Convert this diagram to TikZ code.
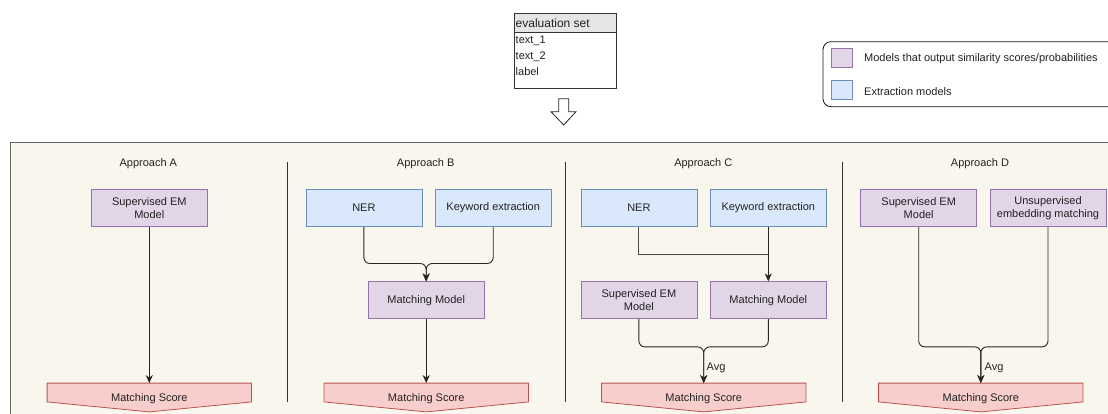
\documentclass[tikz,border=0pt]{standalone}
\usepackage{fontspec}
\setmainfont{Liberation Sans}
\usetikzlibrary{arrows.meta,calc}
\definecolor{pfill}{HTML}{E1D5E7}
\definecolor{pdraw}{HTML}{9673A6}
\definecolor{bfill}{HTML}{DAE8FC}
\definecolor{bdraw}{HTML}{6C8EBF}
\definecolor{rfill}{HTML}{F8CECC}
\definecolor{rdraw}{HTML}{B85450}
\definecolor{cfill}{HTML}{F9F7ED}
\definecolor{txt}{HTML}{222222}
\tikzset{
  base/.style={font=\fontsize{11}{12.7}\selectfont, text=txt, align=center, inner sep=0pt},
  purplebox/.style={base, draw=pdraw, fill=pfill, line width=0.8pt, minimum width=116pt, minimum height=37pt},
  bluebox/.style={base, draw=bdraw, fill=bfill, line width=0.8pt, minimum width=116pt, minimum height=37pt},
  scoretxt/.style={base, minimum width=204pt, minimum height=28.4pt},
  scoreshape/.style={draw=rdraw, fill=rfill, line width=0.8pt},
  conn/.style={draw=black!85, line width=0.9pt, rounded corners=6pt},
  arr/.style={-{Stealth[length=8pt,width=7pt,inset=2.5pt]}},
  title/.style={base},
  lbl/.style={base, anchor=west},
  divider/.style={draw=black!80, line width=0.8pt}
}
\newcommand{\scorepoly}[1]{%
  \path[scoreshape] (#1.north west) -- (#1.north east) -- ($(#1.south east)+(0,-10)$) -- (#1.south) -- ($(#1.south west)+(0,-10)$) -- cycle;}
\begin{document}
\begin{tikzpicture}[x=1pt,y=-1pt]
\useasboundingbox (0,0) rectangle (1108,414);
\clip (0,0) rectangle (1108,414);
\fill[white] (0,0) rectangle (1108,414);

% evaluation set table
\draw[draw=black!80, fill=white, line width=0.8pt] (514,13) rectangle (616,88);
\draw[draw=black!80, fill=black!10, line width=0.8pt] (514,13) rectangle (616,32.7);
\node[lbl, font=\fontsize{12}{14}\selectfont] (evh) at (515.5,23.5) {evaluation set};
\node[lbl] (ev1) at (515.5,41) {text\_1};
\node[lbl] (ev2) at (515.5,56.5) {text\_2};
\node[lbl] (ev3) at (515.5,71.5) {label};

% hollow arrow
\draw[draw=black!85, fill=white, line width=0.8pt] (558.7,98.7) -- (568.7,98.7) -- (568.7,111.7) -- (576,111.7) -- (563.7,125) -- (551,111.7) -- (558.7,111.7) -- cycle;

% legend
\draw[draw=black!90, fill=white, line width=0.8pt, rounded corners=8pt] (823,41.7) rectangle (1125,106.7);
\draw[draw=pdraw, fill=pfill, line width=0.8pt] (831,48.3) rectangle (852.7,67.7);
\draw[draw=bdraw, fill=bfill, line width=0.8pt] (831,80) rectangle (852.7,99.3);
\node[lbl] (lg1) at (864,58.5) {Models that output similarity scores/probabilities};
\node[lbl] (lg2) at (864,91.5) {Extraction models};

% container
\draw[draw=black!60, fill=cfill, line width=0.9pt] (10,142.7) rectangle (1125,425);

% dividers
\draw[divider] (287.3,161.7) -- (287.3,401.7);
\draw[divider] (565,161.7) -- (565,401.7);
\draw[divider] (842.7,161.7) -- (842.7,401.7);

% titles
\node[title] (tA) at (148.3,163.5) {Approach A};
\node[title] (tB) at (425.7,163.5) {Approach B};
\node[title] (tC) at (703.3,163.5) {Approach C};
\node[title] (tD) at (980,163.5) {Approach D};

% ---- Approach A
\node[purplebox] (semA) at (149.3,208) {Supervised EM\\Model};
\node[scoretxt] (sA) at (149.3,397.5) {};
\scorepoly{sA}
\node[base] at ($(sA)+(0,1.2)$) {Matching Score};
\draw[conn,arr] (semA.south) -- (sA.north);

% ---- Approach B
\node[bluebox] (nerB) at (363.9,208) {NER};
\node[bluebox] (kwB) at (493.2,208) {Keyword extraction};
\node[purplebox] (mmB) at (426.2,300.3) {Matching Model};
\node[scoretxt] (sB) at (426.2,397.5) {};
\scorepoly{sB}
\node[base] at ($(sB)+(0,1.2)$) {Matching Score};
\draw[conn,arr] (nerB.south) -- ++(0,36.6) -| (mmB.north);
\draw[conn,arr] (kwB.south) -- ++(0,36.6) -| (mmB.north);
\draw[conn,arr] (mmB.south) -- (sB.north);

% ---- Approach C
\node[bluebox] (nerC) at (638.9,208) {NER};
\node[bluebox] (kwC) at (768.3,208) {Keyword extraction};
\node[purplebox] (semC) at (638.9,300.3) {Supervised EM\\Model};
\node[purplebox] (mmC) at (768.3,300.3) {Matching Model};
\node[scoretxt] (sC) at (703.7,397.5) {};
\scorepoly{sC}
\node[base] at ($(sC)+(0,1.2)$) {Matching Score};
\coordinate (jC) at (768.3,254);
\draw[conn, sharp corners, draw=black!70] (nerC.south) |- (jC);
\draw[conn,arr] (kwC.south) -- (mmC.north);
\draw[conn,arr] (semC.south) -- ++(0,27.7) -| (sC.north);
\draw[conn,arr] (mmC.south) -- ++(0,27.7) -| (sC.north);
\node[lbl] (avgC) at (706.5,367.5) {Avg};

% ---- Approach D
\node[purplebox] (semD) at (918.7,208) {Supervised EM\\Model};
\node[purplebox] (unD) at (1048,208) {Unsupervised\\embedding matching};
\node[scoretxt] (sD) at (980.8,397.5) {};
\scorepoly{sD}
\node[base] at ($(sD)+(0,1.2)$) {Matching Score};
\draw[conn,arr] (semD.south) -- ++(0,120) -| (sD.north);
\draw[conn,arr] (unD.south) -- ++(0,120) -| (sD.north);
\node[lbl] (avgD) at (984.5,367.5) {Avg};
\end{tikzpicture}
\end{document}
